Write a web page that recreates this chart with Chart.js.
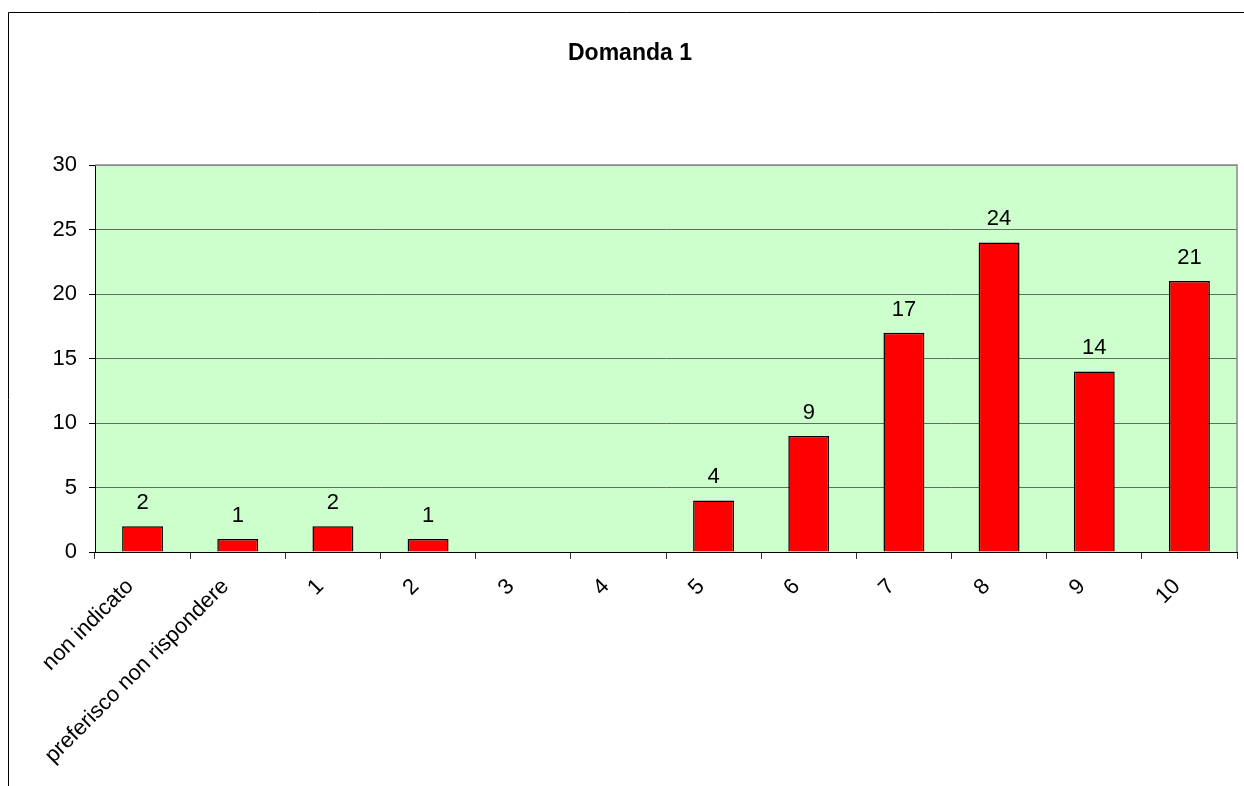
<!DOCTYPE html>
<html>
<head>
<meta charset="utf-8">
<script src="https://cdn.jsdelivr.net/npm/chart.js@4"></script>
<style>
  body { margin: 0; background: #fff; }
  #wrap { width: 1244px; height: 786px; }
</style>
</head>
<body>
<div id="wrap"><canvas id="grafico" width="1244" height="786"></canvas></div>
<script>
// categorie e valori
const categorie = ["non indicato", "preferisco non rispondere", "1", "2", "3", "4", "5", "6", "7", "8", "9", "10"];
const risposte = [2, 1, 2, 1, 0, 0, 4, 9, 17, 24, 14, 21];
const yTicks = [0, 5, 10, 15, 20, 25, 30];
const titolo = 'Domanda 1';

const fontBase = "'Liberation Sans', Arial, sans-serif";

// sfondo verde dell'area, cornice esterna e titolo
const sfondo = {
  id: 'sfondo',
  beforeDraw(chart) {
    const { ctx, chartArea: a } = chart;
    ctx.save();
    ctx.fillStyle = '#fff';
    ctx.fillRect(0, 0, chart.width, chart.height);
    ctx.fillStyle = '#CCFFCC';
    ctx.fillRect(a.left, a.top, a.right - a.left, a.bottom - a.top);
    // cornice del grafico (sinistra e sopra)
    ctx.strokeStyle = '#000';
    ctx.lineWidth = 1;
    ctx.beginPath();
    ctx.moveTo(8.5, chart.height);
    ctx.lineTo(8.5, 12.5);
    ctx.lineTo(chart.width, 12.5);
    ctx.stroke();
    // titolo
    ctx.fillStyle = '#000';
    ctx.font = 'bold 23px ' + fontBase;
    ctx.textAlign = 'center';
    ctx.textBaseline = 'middle';
    ctx.fillText(titolo, 630, 54);
    ctx.restore();
  },
  beforeDatasetsDraw(chart) {
    const { ctx, chartArea: a } = chart;
    ctx.save();
    ctx.strokeStyle = '#888';
    ctx.lineWidth = 1.5;
    ctx.beginPath();
    ctx.moveTo(a.left, a.top);
    ctx.lineTo(a.right, a.top);
    ctx.lineTo(a.right, a.bottom);
    ctx.stroke();
    ctx.restore();
  }
};

// etichette con il valore sopra le barre e nomi delle categorie ruotati
const etichette = {
  id: 'etichette',
  afterDatasetsDraw(chart) {
    const { ctx } = chart;
    const meta = chart.getDatasetMeta(0);
    ctx.save();
    ctx.fillStyle = '#000';
    ctx.font = '22px ' + fontBase;
    ctx.textAlign = 'center';
    ctx.textBaseline = 'alphabetic';
    meta.data.forEach((bar, i) => {
      if (risposte[i] === 0) return;
      ctx.fillText(String(risposte[i]), bar.x, bar.y - 17);
    });
    // etichette asse x a -45 gradi
    const xs = chart.scales.x;
    const y0 = xs.top + 31;
    ctx.textAlign = 'right';
    ctx.textBaseline = 'middle';
    categorie.forEach((lab, i) => {
      const px = xs.getPixelForTick(i) - 12.5;
      ctx.save();
      ctx.translate(px, y0);
      ctx.rotate(-Math.PI / 4);
      ctx.fillText(lab, 0, 0);
      ctx.restore();
    });
    ctx.restore();
  }
};

new Chart(document.getElementById('grafico'), {
  type: 'bar',
  data: {
    labels: categorie,
    datasets: [{
      label: titolo,
      data: risposte,
      backgroundColor: '#FF0000',
      borderColor: '#000',
      borderWidth: 1.5,
      barPercentage: 0.43,
      categoryPercentage: 1
    }]
  },
  options: {
    responsive: false,
    animation: false,
    layout: { padding: { top: 165, right: 7, left: 0, bottom: 0 } },
    plugins: {
      legend: { display: false },
      tooltip: { enabled: false },
      title: { display: false }
    },
    scales: {
      x: {
        offset: true,
        grid: {
          offset: true,
          drawOnChartArea: false,
          drawTicks: true,
          tickLength: 7,
          tickColor: '#333'
        },
        border: { color: '#000', width: 1 },
        ticks: {
          color: 'rgba(0,0,0,0)',
          font: { family: fontBase, size: 22 },
          minRotation: 45,
          maxRotation: 45,
          autoSkip: false
        },
        afterFit(scale) { scale.height = 786 - 552; }
      },
      y: {
        min: 0,
        max: 30,
        afterBuildTicks(scale) { scale.ticks = yTicks.map(v => ({ value: v })); },
        grid: {
          color: ctx => (ctx.tick && ctx.tick.value === 30) ? '#888' : '#5f6f5f',
          lineWidth: 1,
          tickLength: 6,
          tickColor: '#000'
        },
        border: { color: '#000', width: 1 },
        ticks: {
          color: '#000',
          font: { family: fontBase, size: 22 },
          padding: 12
        },
        afterFit(scale) { scale.width = 95; }
      }
    }
  },
  plugins: [sfondo, etichette]
});
</script>
</body>
</html>
